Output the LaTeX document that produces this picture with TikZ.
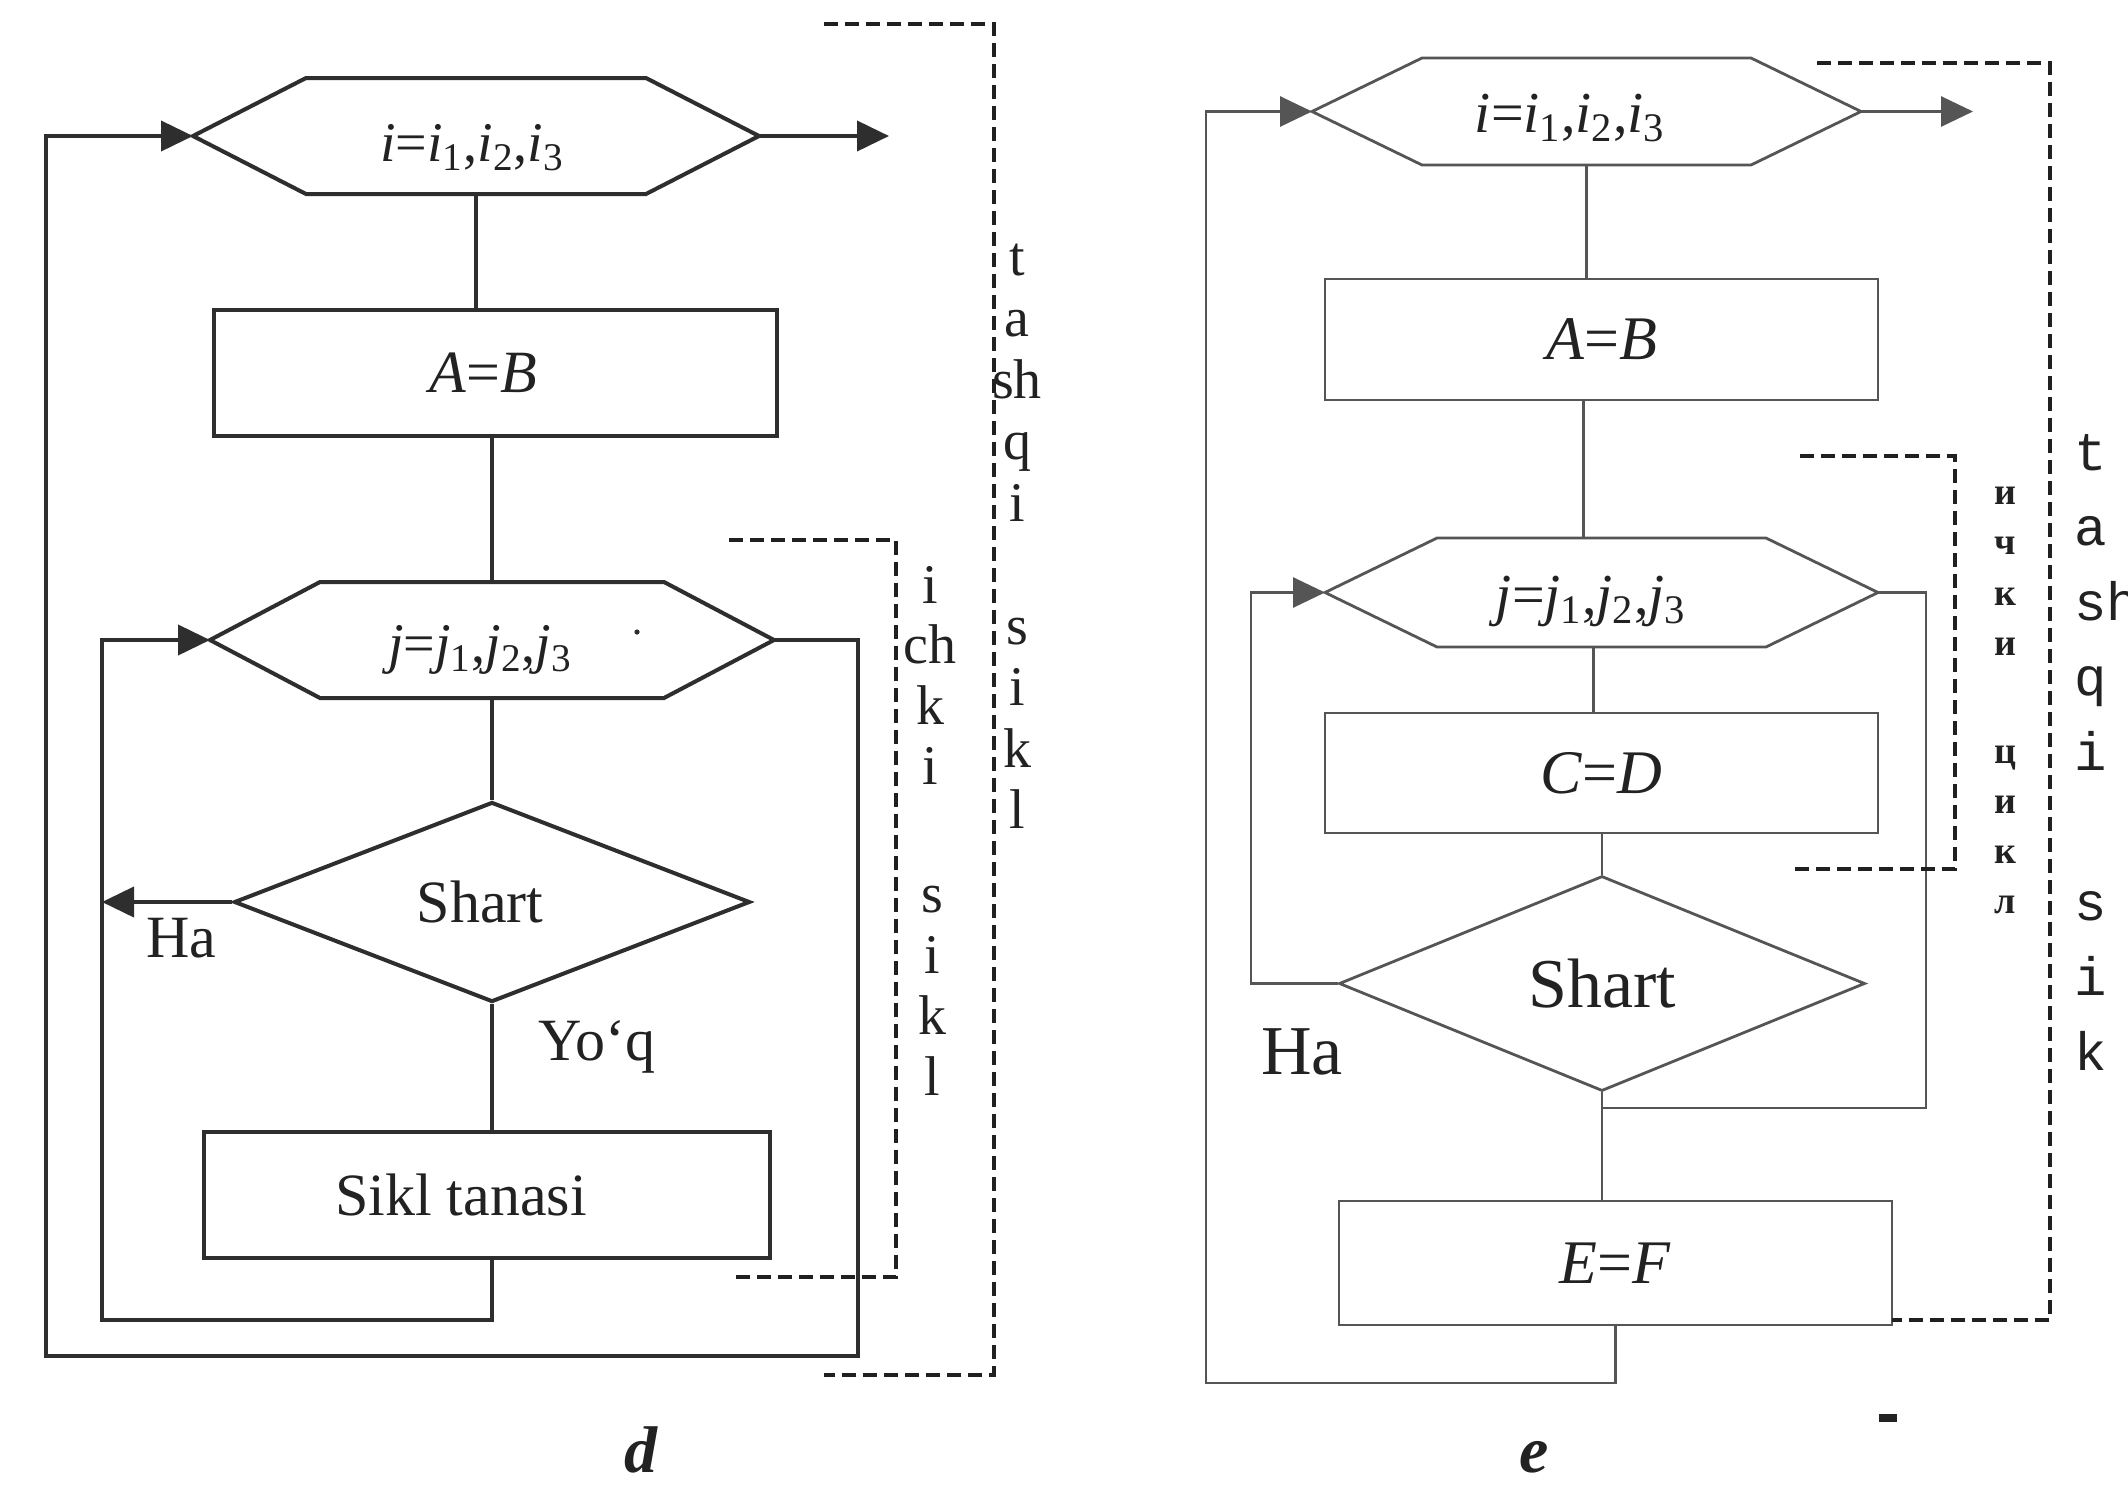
\documentclass[tikz,border=0pt]{standalone}
\usepackage{fontspec}
\setmainfont{Liberation Serif}
\newfontfamily\monofam{Liberation Mono}
\usetikzlibrary{arrows.meta,shapes.geometric}

\definecolor{inkD}{HTML}{2E2E2E}
\definecolor{inkE}{HTML}{555555}
\definecolor{inkB}{HTML}{202020}
\definecolor{inkT}{HTML}{222222}

% hexagon (loop header): style, name, centre x, centre y, half width, half height, cut
\newcommand\hexnode[7]{%
  \coordinate (#2-w) at (#3-#5,#4);
  \coordinate (#2-e) at (#3+#5,#4);
  \coordinate (#2-n) at (#3,#4-#6);
  \coordinate (#2-s) at (#3,#4+#6);
  \draw[#1] (#2-w) -- (#3-#5+#7,#4-#6) -- (#3+#5-#7,#4-#6) -- (#2-e)
    -- (#3+#5-#7,#4+#6) -- (#3-#5+#7,#4+#6) -- cycle;
}
\newcommand\looplbl[1]{\textit{#1}=\textit{#1}\textsubscript{1},\textit{#1}\textsubscript{2},\textit{#1}\textsubscript{3}}

\tikzset{
  lineD/.style={draw=inkD, line width=2pt},
  lineE/.style={draw=inkE, line width=1.4pt},
  arrD/.style={lineD, -{Triangle[length=16pt,width=15pt]}},
  arrE/.style={lineE, -{Triangle[length=16pt,width=15pt]}},
  bracket/.style={draw=inkB, line width=1.8pt, dash pattern=on 7pt off 3.5pt},
  txt/.style={text=inkT, inner sep=0pt},
  boxD/.style={lineD, rectangle, inner sep=0pt, text=inkT, font=\fontsize{30}{36}\selectfont},
  boxE/.style={lineE, rectangle, inner sep=0pt, text=inkT, font=\fontsize{31}{36}\selectfont},
  diaD/.style={lineD, diamond, inner sep=0pt, text=inkT, font=\fontsize{30}{36}\selectfont},
  diaE/.style={lineE, diamond, inner sep=0pt, text=inkT, font=\fontsize{35}{40}\selectfont},
  hexD/.style={txt, font=\fontsize{28}{34}\selectfont},
  hexE/.style={txt, font=\fontsize{29}{34}\selectfont},
  vtxt/.style={txt, anchor=base, font=\fontsize{28}{32}\selectfont},
  vmono/.style={txt, anchor=base west, font=\monofam\fontsize{27}{32}\selectfont},
  vcyr/.style={txt, anchor=base, font=\bfseries\fontsize{19}{22}\selectfont},
  figlbl/.style={txt, anchor=base, font=\bfseries\itshape\fontsize{33}{40}\selectfont},
}

\begin{document}
\begin{tikzpicture}[x=0.5pt,y=-0.5pt]
\useasboundingbox (0,0) rectangle (2128,1489);
\fill[white] (0,0) rectangle (2128,1489);
\clip (0,0) rectangle (2128,1489);

% ---------------- figure d ----------------
\hexnode{lineD}{h1d}{476}{136}{283}{58}{113}
\node[hexD] (h1dt) at (472,148) {\looplbl{i}};
\node[boxD, minimum width=281.5pt, minimum height=63pt] (abd) at (495.5,373) {\hspace*{-12pt}\textit{A}=\textit{B}};
\hexnode{lineD}{h2d}{492}{640}{282}{58}{110}
\node[hexD] (h2dt) at (480,650) {\looplbl{j}};
\fill[inkD] (637,632) circle (1.3pt);
\node[diaD, minimum width=258pt, minimum height=100pt] (dd) at (492,902) {\hspace*{-12pt}Shart};
\node[boxD, minimum width=283pt, minimum height=63pt] (sikl) at (487,1195) {\hspace*{-26pt}Sikl tanasi};

\coordinate (doutd) at (889,136);
\coordinate (dli) at (102,1320);
\coordinate (dlo) at (46,1356);
\coordinate (dro) at (858,1356);

\draw[arrD] (h1d-e) -- (doutd);
\draw[lineD] (h1d-s) -- (h1d-s |- abd.north);
\draw[lineD] (h2d-n |- abd.south) -- (h2d-n);
\draw[lineD] (h2d-s) -- (dd.north);
\draw[lineD] (dd.south) -- (dd.south |- sikl.north);
\draw[arrD] (dd.west) -- (dd.west -| dli);
\draw[arrD] (dd.south |- sikl.south) -- (dd.south |- dli) -- (dli) -- (dli |- h2d-w) -- (h2d-w);
\draw[arrD] (h2d-e) -- (h2d-e -| dro) -- (dro) -- (dlo) -- (dlo |- h1d-w) -- (h1d-w);

\node[txt, anchor=base, font=\fontsize{30}{36}\selectfont] (had) at (181,957) {Ha};
\node[txt, anchor=base, font=\fontsize{30}{36}\selectfont] (yoq) at (597,1060) {Yo‘q};

% outer / inner loop brackets
\draw[bracket] (824,24) -- (994,24) -- (994,1375) -- (824,1375);
\draw[bracket] (729,540) -- (896,540) -- (896,1277) -- (729,1277);

\foreach \ch [count=\k from 0] in {t,a,sh,q,i}
  \node[vtxt] (dtA\k) at (1017,275+61.5*\k) {\ch};
\foreach \ch [count=\k from 0] in {s,i,k,l}
  \node[vtxt] (dtB\k) at (1017,644+61.5*\k) {\ch};
\foreach \ch [count=\k from 0] in {i,ch,k,i}
  \node[vtxt] (diA\k) at (930,603+60.5*\k) {\ch};
\foreach \ch [count=\k from 0] in {s,i,k,l}
  \node[vtxt] (diB\k) at (932,912+61*\k) {\ch};

\node[figlbl] (labd) at (641,1472) {d};

% ---------------- figure e ----------------
\hexnode{lineE}{h1e}{1586.5}{111.5}{274.5}{53.5}{110}
\node[hexE] (h1et) at (1570,118) {\looplbl{i}};
\node[boxE, minimum width=276.5pt, minimum height=60.5pt] (abe) at (1601.5,339.5) {\textit{A}=\textit{B}};
\hexnode{lineE}{h2e}{1601.5}{592.5}{276.5}{54.5}{112}
\node[hexE] (h2et) at (1591,601) {\looplbl{j}};
\node[boxE, minimum width=276.5pt, minimum height=60pt] (cde) at (1601.5,773) {\textit{C}=\textit{D}};
\node[diaE, minimum width=263pt, minimum height=107.5pt] (de) at (1602,983.5) {Shart};
\node[boxE, minimum width=276.5pt, minimum height=62pt] (efe) at (1615.5,1263) {\textit{E}=\textit{F}};

\coordinate (eoute) at (1973,111.5);
\coordinate (eli) at (1251,981);
\coordinate (elo) at (1206,1383);
\coordinate (ero) at (1926,1108);

\draw[arrE] (h1e-e) -- (eoute);
\draw[lineE] (h1e-s) -- (h1e-s |- abe.north);
\draw[lineE] ([xshift=-9pt]abe.south) -- ([xshift=-9pt]abe.south |- h2e-n);
\draw[lineE] ([xshift=-4pt]cde.north |- h2e-s) -- ([xshift=-4pt]cde.north);
\draw[lineE] (de.north |- cde.south) -- (de.north);
\draw[lineE] (de.south) -- (de.south |- efe.north);
\draw[arrE] (de.west) -- (de.west -| eli) -- (eli |- h2e-w) -- (h2e-w);
\draw[lineE] (h2e-e) -- (h2e-e -| ero) -- (ero) -- (ero -| de.south);
\draw[arrE] (efe.south) -- (efe.south |- elo) -- (elo) -- (elo |- h1e-w) -- (h1e-w);

\node[txt, anchor=base, font=\fontsize{35}{40}\selectfont] (hae) at (1302,1074) {Ha};

\draw[bracket] (1817,63) -- (2050,63) -- (2050,1320) -- (1892,1320);
\draw[bracket] (1800,456) -- (1955,456) -- (1955,869) -- (1793,869);

\foreach \ch [count=\k from 0] in {t,a,sh,q,i}
  \node[vmono] (etA\k) at (2074,470+75*\k) {\ch};
\foreach \ch [count=\k from 0] in {s,i,k}
  \node[vmono] (etB\k) at (2074,920+75*\k) {\ch};
\foreach \ch [count=\k from 0] in {и,ч,к,и}
  \node[vcyr] (ecA\k) at (2005,504+50.5*\k) {\ch};
\foreach \ch [count=\k from 0] in {ц,и,к,л}
  \node[vcyr] (ecB\k) at (2005,763+50.3*\k) {\ch};

\fill[inkT] (1879,1414) rectangle (1897,1422);
\node[figlbl] (labe) at (1534,1472) {e};
\end{tikzpicture}
\end{document}
